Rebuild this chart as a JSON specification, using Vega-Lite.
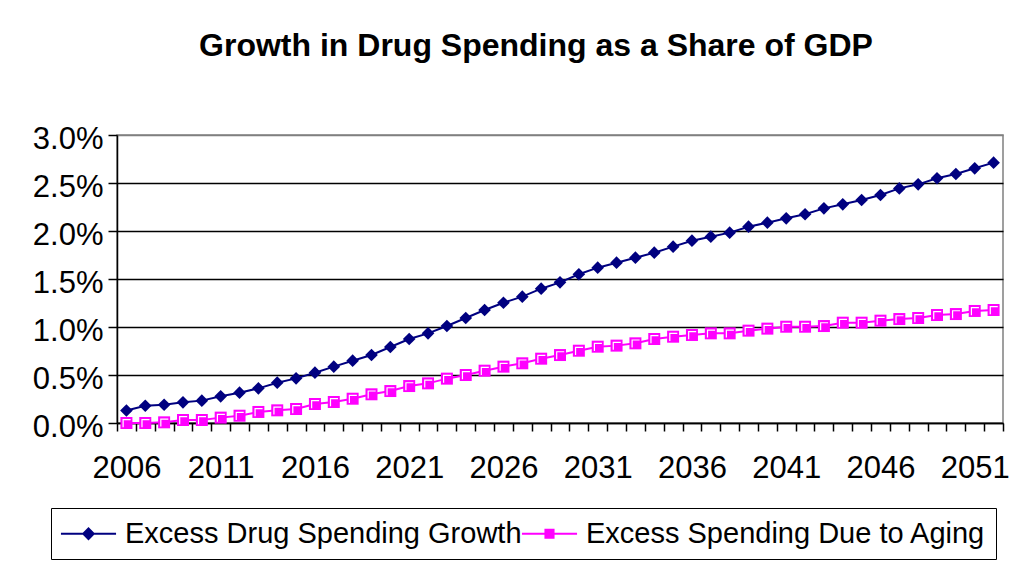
{
  "$schema": "https://vega.github.io/schema/vega-lite/v6.json",
  "width": 886,
  "height": 288,
  "autosize": {"type": "none"},
  "padding": {"left": 117, "top": 135, "right": 10, "bottom": 138},
  "background": "#ffffff",
  "title": {
    "text": "Growth in Drug Spending as a Share of GDP",
    "font": "Liberation Sans",
    "fontSize": 32,
    "fontWeight": "bold",
    "color": "#000000",
    "anchor": "middle",
    "frame": "group",
    "baseline": "alphabetic",
    "offset": 35,
    "dx": -24
  },
  "config": {
    "font": "Liberation Sans",
    "view": {"stroke": "#808080", "strokeWidth": 1.5}
  },
  "data": {
    "values": [
      {"year": 2006, "Excess Drug Spending Growth": 0.13, "Excess Spending Due to Aging": 0.0},
      {"year": 2007, "Excess Drug Spending Growth": 0.18, "Excess Spending Due to Aging": 0.0},
      {"year": 2008, "Excess Drug Spending Growth": 0.19, "Excess Spending Due to Aging": 0.007},
      {"year": 2009, "Excess Drug Spending Growth": 0.215, "Excess Spending Due to Aging": 0.031},
      {"year": 2010, "Excess Drug Spending Growth": 0.233, "Excess Spending Due to Aging": 0.031},
      {"year": 2011, "Excess Drug Spending Growth": 0.278, "Excess Spending Due to Aging": 0.056},
      {"year": 2012, "Excess Drug Spending Growth": 0.316, "Excess Spending Due to Aging": 0.076},
      {"year": 2013, "Excess Drug Spending Growth": 0.361, "Excess Spending Due to Aging": 0.115},
      {"year": 2014, "Excess Drug Spending Growth": 0.42, "Excess Spending Due to Aging": 0.132},
      {"year": 2015, "Excess Drug Spending Growth": 0.465, "Excess Spending Due to Aging": 0.146},
      {"year": 2016, "Excess Drug Spending Growth": 0.524, "Excess Spending Due to Aging": 0.198},
      {"year": 2017, "Excess Drug Spending Growth": 0.587, "Excess Spending Due to Aging": 0.219},
      {"year": 2018, "Excess Drug Spending Growth": 0.649, "Excess Spending Due to Aging": 0.253},
      {"year": 2019, "Excess Drug Spending Growth": 0.708, "Excess Spending Due to Aging": 0.299},
      {"year": 2020, "Excess Drug Spending Growth": 0.792, "Excess Spending Due to Aging": 0.333},
      {"year": 2021, "Excess Drug Spending Growth": 0.875, "Excess Spending Due to Aging": 0.385},
      {"year": 2022, "Excess Drug Spending Growth": 0.934, "Excess Spending Due to Aging": 0.413},
      {"year": 2023, "Excess Drug Spending Growth": 1.01, "Excess Spending Due to Aging": 0.462},
      {"year": 2024, "Excess Drug Spending Growth": 1.094, "Excess Spending Due to Aging": 0.5},
      {"year": 2025, "Excess Drug Spending Growth": 1.177, "Excess Spending Due to Aging": 0.545},
      {"year": 2026, "Excess Drug Spending Growth": 1.253, "Excess Spending Due to Aging": 0.587},
      {"year": 2027, "Excess Drug Spending Growth": 1.316, "Excess Spending Due to Aging": 0.622},
      {"year": 2028, "Excess Drug Spending Growth": 1.399, "Excess Spending Due to Aging": 0.67},
      {"year": 2029, "Excess Drug Spending Growth": 1.465, "Excess Spending Due to Aging": 0.708},
      {"year": 2030, "Excess Drug Spending Growth": 1.549, "Excess Spending Due to Aging": 0.753},
      {"year": 2031, "Excess Drug Spending Growth": 1.618, "Excess Spending Due to Aging": 0.795},
      {"year": 2032, "Excess Drug Spending Growth": 1.67, "Excess Spending Due to Aging": 0.806},
      {"year": 2033, "Excess Drug Spending Growth": 1.722, "Excess Spending Due to Aging": 0.83},
      {"year": 2034, "Excess Drug Spending Growth": 1.774, "Excess Spending Due to Aging": 0.875},
      {"year": 2035, "Excess Drug Spending Growth": 1.837, "Excess Spending Due to Aging": 0.899},
      {"year": 2036, "Excess Drug Spending Growth": 1.899, "Excess Spending Due to Aging": 0.917},
      {"year": 2037, "Excess Drug Spending Growth": 1.941, "Excess Spending Due to Aging": 0.934},
      {"year": 2038, "Excess Drug Spending Growth": 1.983, "Excess Spending Due to Aging": 0.934},
      {"year": 2039, "Excess Drug Spending Growth": 2.045, "Excess Spending Due to Aging": 0.962},
      {"year": 2040, "Excess Drug Spending Growth": 2.087, "Excess Spending Due to Aging": 0.983},
      {"year": 2041, "Excess Drug Spending Growth": 2.132, "Excess Spending Due to Aging": 1.003},
      {"year": 2042, "Excess Drug Spending Growth": 2.174, "Excess Spending Due to Aging": 1.003},
      {"year": 2043, "Excess Drug Spending Growth": 2.236, "Excess Spending Due to Aging": 1.01},
      {"year": 2044, "Excess Drug Spending Growth": 2.278, "Excess Spending Due to Aging": 1.045},
      {"year": 2045, "Excess Drug Spending Growth": 2.323, "Excess Spending Due to Aging": 1.045},
      {"year": 2046, "Excess Drug Spending Growth": 2.375, "Excess Spending Due to Aging": 1.066},
      {"year": 2047, "Excess Drug Spending Growth": 2.444, "Excess Spending Due to Aging": 1.083},
      {"year": 2048, "Excess Drug Spending Growth": 2.486, "Excess Spending Due to Aging": 1.094},
      {"year": 2049, "Excess Drug Spending Growth": 2.549, "Excess Spending Due to Aging": 1.125},
      {"year": 2050, "Excess Drug Spending Growth": 2.594, "Excess Spending Due to Aging": 1.135},
      {"year": 2051, "Excess Drug Spending Growth": 2.653, "Excess Spending Due to Aging": 1.167},
      {"year": 2052, "Excess Drug Spending Growth": 2.712, "Excess Spending Due to Aging": 1.177}
    ]
  },
  "transform": [
    {"fold": ["Excess Drug Spending Growth", "Excess Spending Due to Aging"], "as": ["series", "share"]}
  ],
  "encoding": {
    "x": {
      "field": "year",
      "type": "ordinal",
      "scale": {"type": "band", "paddingInner": 0, "paddingOuter": 0},
      "axis": {
        "title": null,
        "tickBand": "extent",
        "labelExpr": "(+datum.value - 2006) % 5 === 0 ? datum.label : ''",
        "labelAngle": 0,
        "labelFont": "Liberation Sans",
        "labelFontSize": 31,
        "labelColor": "#000000",
        "labelPadding": 22,
        "labelOverlap": false,
        "labelBound": false,
        "labelFlush": false,
        "domainColor": "#000000",
        "domainWidth": 1.5,
        "tickColor": "#000000",
        "tickWidth": 1.5,
        "tickSize": 8,
        "grid": false
      }
    },
    "y": {
      "field": "share",
      "type": "quantitative",
      "scale": {"domain": [0, 3], "nice": false},
      "axis": {
        "title": null,
        "values": [0, 0.5, 1, 1.5, 2, 2.5, 3],
        "labelExpr": "format(datum.value, '.1f') + '%'",
        "labelFont": "Liberation Sans",
        "labelFontSize": 31,
        "labelColor": "#000000",
        "labelPadding": 5,
        "labelOffset": 4,
        "domainColor": "#000000",
        "domainWidth": 1.5,
        "tickColor": "#000000",
        "tickWidth": 1.5,
        "tickSize": 9,
        "grid": true,
        "gridColor": {"condition": {"test": "datum.value >= 3", "value": "#808080"}, "value": "#000000"},
        "gridWidth": 1.5
      }
    },
    "color": {
      "field": "series",
      "type": "nominal",
      "sort": null,
      "scale": {
        "domain": ["Excess Drug Spending Growth", "Excess Spending Due to Aging"],
        "range": ["#000080", "#ff00ff"]
      },
      "legend": {
        "title": null,
        "orient": "none",
        "legendX": -66,
        "legendY": 373,
        "direction": "horizontal",
        "labelFont": "Liberation Sans",
        "labelFontSize": 29,
        "labelColor": "#000000",
        "labelLimit": 0,
        "strokeColor": "#000000",
        "padding": 10,
        "symbolSize": 841,
        "symbolOffset": 12,
        "labelOffset": 21,
        "columnPadding": -10,
        "symbolStrokeWidth": 2,
        "encode": {
          "symbols": {
            "update": {
              "shape": {"signal": "datum.value === 'Excess Drug Spending Growth' ? 'M-1.9,0H1.9M-0.36,0L0,-0.36L0.36,0L0,0.36Z' : 'M-1.9,0H1.9M-0.28,-0.28H0.28V0.28H-0.28Z'"},
              "fill": {"signal": "datum.value === 'Excess Drug Spending Growth' ? '#000080' : '#ff00ff'"},
              "stroke": {"signal": "datum.value === 'Excess Drug Spending Growth' ? '#000080' : '#ff00ff'"},
              "strokeWidth": {"value": 2},
              "opacity": {"value": 1}
            }
          }
        }
      }
    }
  },
  "layer": [
    {
      "mark": {"type": "line", "strokeWidth": 2}
    },
    {
      "transform": [{"filter": "datum.series === 'Excess Drug Spending Growth'"}],
      "mark": {"type": "point", "shape": "diamond", "filled": true, "opacity": 1, "size": 160}
    },
    {
      "transform": [{"filter": "datum.series === 'Excess Spending Due to Aging'"}],
      "mark": {"type": "point", "shape": "square", "filled": true, "opacity": 1, "size": 144}
    },
    {
      "transform": [{"filter": "datum.series === 'Excess Spending Due to Aging'"}],
      "mark": {
        "type": "point",
        "shape": "M-0.55,0.7V-0.55H0.7",
        "filled": false,
        "stroke": "#ffffff",
        "strokeWidth": 1.2,
        "opacity": 1,
        "size": 144
      },
      "encoding": {"color": {"value": "#ffffff"}}
    }
  ]
}
